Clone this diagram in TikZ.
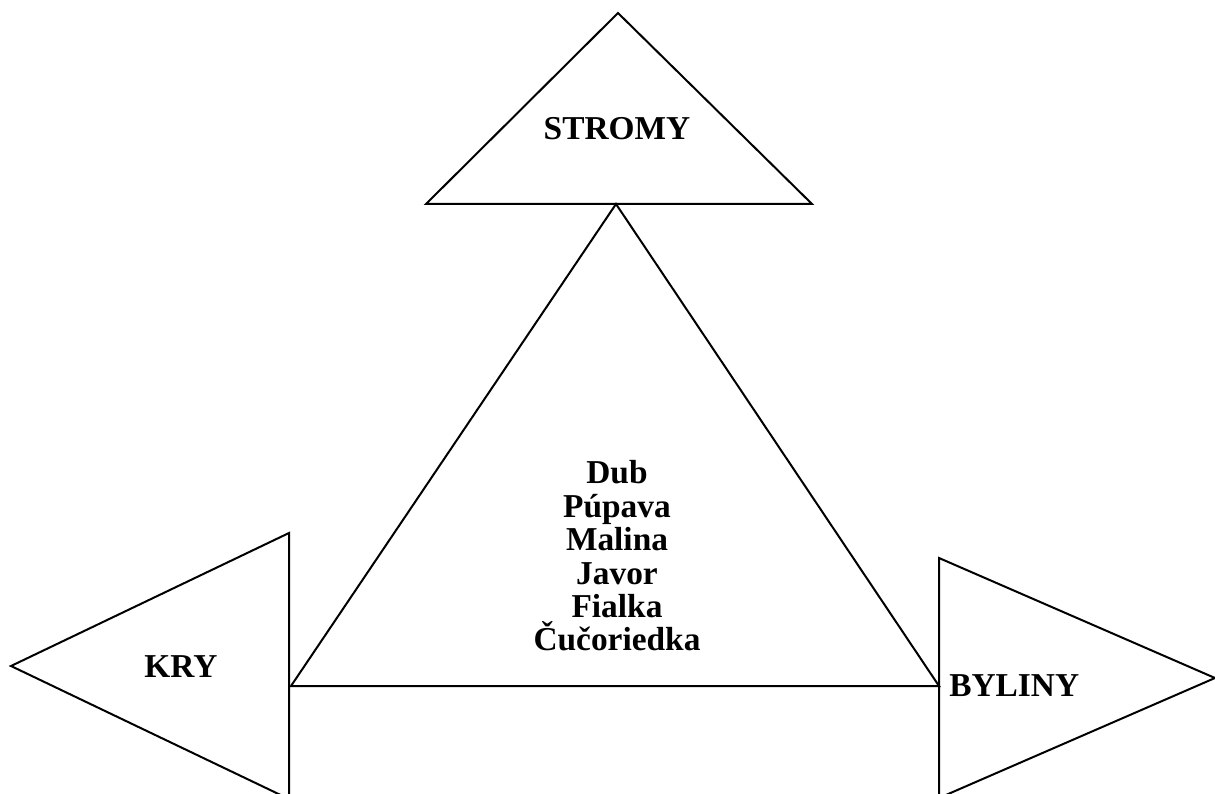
\documentclass[tikz,border=0pt]{standalone}
\usepackage{fontspec}
\setmainfont{Liberation Serif}
\begin{document}
\begin{tikzpicture}[x=0.02cm,y=-0.02cm]
                \useasboundingbox (0,0) rectangle (1215,794);
                \clip (0,0) rectangle (1215,794);
                {\fontsize{19}{19}\selectfont\bfseries

                % Drawing triangle STROMY
                \draw [line width=0.04cm] (618,13) -- (812,204) -- (426,204) -- cycle;%
                \draw (617,129) node (stromy) { STROMY };%

                % Drawing middle triangle
                \draw [line width=0.04cm] (616,204) -- (939,686) -- (291,686) -- cycle;%
                \draw (617,556) node [align=center, inner sep=0pt] (rastliny) { Dub\\ Púpava\\ Malina\\ Javor\\ Fialka\\ Čučoriedka };%

                % Drawing triangle KRY
                \draw [line width=0.04cm] (11,666) -- (289,533) -- (289,799) -- cycle;%
                \draw (181,667) node (kry) { KRY };%

                % Drawing triangle BYLINY
                \draw [line width=0.04cm] (939,558) -- (1215,678) -- (939,798) -- cycle;%
                \draw (949,686) node [anchor=west, inner sep=0pt] (byliny) { BYLINY };%
                }
\end{tikzpicture}
\end{document}
